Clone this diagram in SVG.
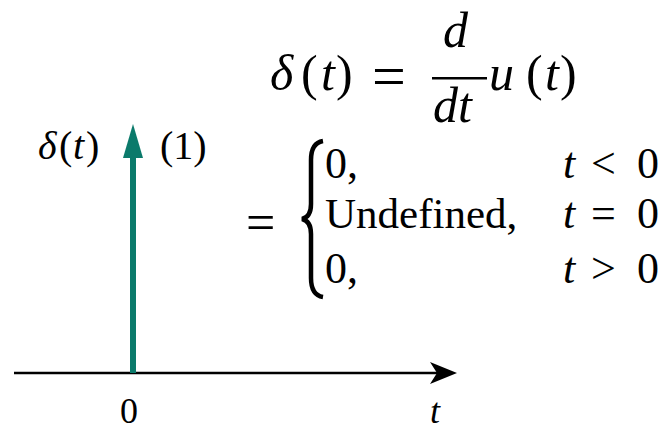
<svg xmlns="http://www.w3.org/2000/svg" width="667" height="433" viewBox="0 0 667 433">
<rect width="667" height="433" fill="#fff"/>
<g id="connectors">
<line x1="14" y1="373" x2="440" y2="373" stroke="#000" stroke-width="2.5"/>
<path d="M430,362 L457,373 L430,384 L437,373 Z" fill="#000"/>
</g>
<g id="impulse">
<rect x="130" y="150" width="6" height="223" fill="#0b7a6b"/>
<path d="M133,124 L143,158 L123,158 Z" fill="#0b7a6b"/>
</g>
<g id="labels">
<text x="38" y="159" font-size="40" font-family="Liberation Serif" font-style="italic">&#948;</text>
<text x="59" y="159" font-size="40" font-family="Liberation Serif">(</text>
<text x="73" y="159" font-size="40" font-family="Liberation Serif" font-style="italic">t</text>
<text x="86" y="159" font-size="40" font-family="Liberation Serif">)</text>
<text x="160" y="159" font-size="40" font-family="Liberation Serif">(1)</text>
<text x="120" y="423" font-size="36" font-family="Liberation Serif">0</text>
<text x="430" y="423" font-size="36" font-family="Liberation Serif" font-style="italic">t</text>
</g>
<g id="formula">
<text x="270" y="90" font-size="50" font-family="Liberation Serif" font-style="italic">&#948;</text>
<text x="301" y="90" font-size="50" font-family="Liberation Serif">(</text>
<text x="321" y="90" font-size="50" font-family="Liberation Serif" font-style="italic">t</text>
<text x="336" y="90" font-size="50" font-family="Liberation Serif">)</text>
<text x="372" y="96" font-size="60" font-family="Liberation Serif">=</text>
<text x="443" y="47" font-size="50" font-family="Liberation Serif" font-style="italic">d</text>
<rect x="432" y="77" width="55" height="2.5" fill="#000"/>
<text x="433" y="122" font-size="50" font-family="Liberation Serif" font-style="italic">dt</text>
<text x="489" y="90" font-size="50" font-family="Liberation Serif" font-style="italic">u</text>
<text x="526" y="90" font-size="50" font-family="Liberation Serif">(</text>
<text x="545" y="90" font-size="50" font-family="Liberation Serif" font-style="italic">t</text>
<text x="560" y="90" font-size="50" font-family="Liberation Serif">)</text>
</g>
<g id="piecewise">
<text x="246" y="240" font-size="52" font-family="Liberation Serif">=</text>
<path d="M323,141 Q311,143 311,160 L311,204 Q311,217 302,219 Q311,221 311,234 L311,278 Q311,295 323,297" fill="none" stroke="#000" stroke-width="4.5"/>
<text x="325" y="178" font-size="44" font-family="Liberation Serif">0,</text>
<text x="325" y="228" font-size="43" font-family="Liberation Serif">Undefined,</text>
<text x="325" y="283" font-size="44" font-family="Liberation Serif">0,</text>
<text x="563" y="178" font-size="44" font-family="Liberation Serif" font-style="italic">t</text>
<text x="591" y="178" font-size="44" font-family="Liberation Serif">&lt;</text>
<text x="637" y="178" font-size="44" font-family="Liberation Serif">0</text>
<text x="563" y="228" font-size="44" font-family="Liberation Serif" font-style="italic">t</text>
<text x="591" y="228" font-size="44" font-family="Liberation Serif">=</text>
<text x="637" y="228" font-size="44" font-family="Liberation Serif">0</text>
<text x="563" y="283" font-size="44" font-family="Liberation Serif" font-style="italic">t</text>
<text x="591" y="283" font-size="44" font-family="Liberation Serif">&gt;</text>
<text x="637" y="283" font-size="44" font-family="Liberation Serif">0</text>
</g>
</svg>
